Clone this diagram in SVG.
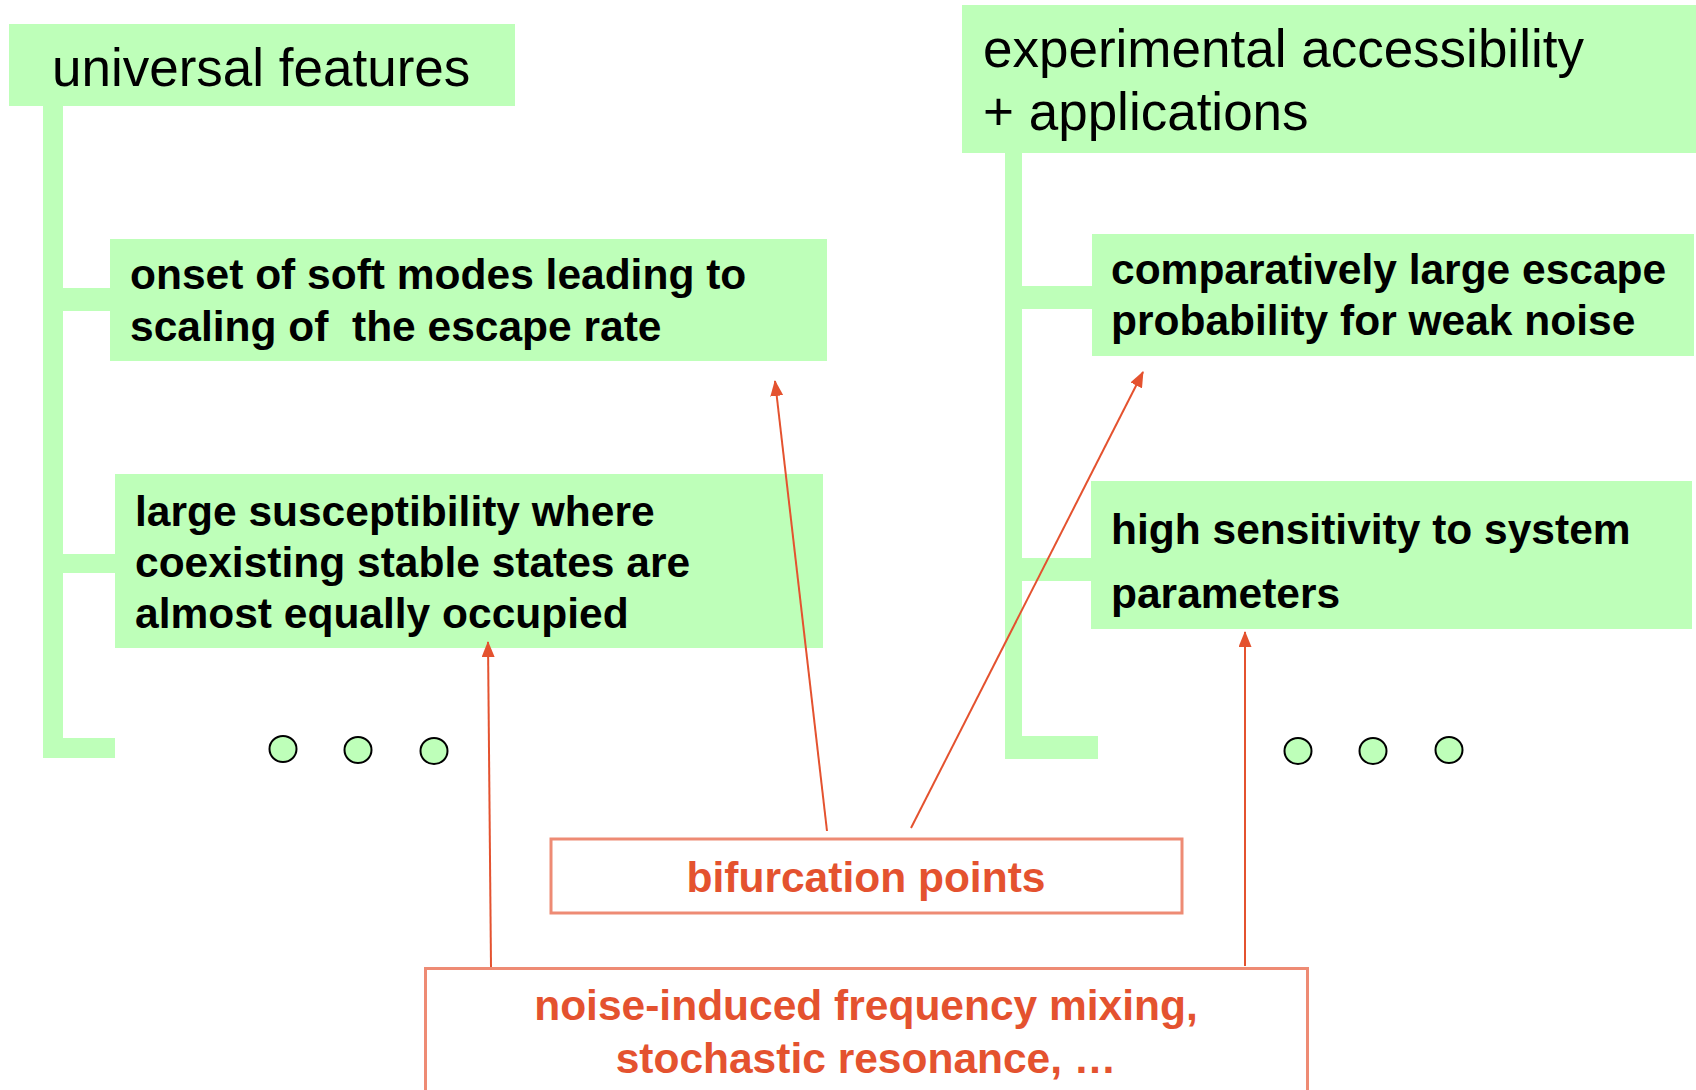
<svg xmlns="http://www.w3.org/2000/svg" width="1696" height="1090" viewBox="0 0 1696 1090">
<defs>
<style>
.box{fill:#BEFFB9}
.bar{fill:#BEFFB9}
.head{font-family:"Liberation Sans",Arial,sans-serif;font-size:53px;fill:#000}
.item{font-family:"Liberation Sans",Arial,sans-serif;font-size:42.5px;font-weight:bold;fill:#000}
.rbox{fill:#fff;stroke:#EE8B74;stroke-width:3}
.rtext{font-family:"Liberation Sans",Arial,sans-serif;font-size:42.5px;font-weight:bold;fill:#E4522F;text-anchor:middle}
.arrow{stroke:#E4522F;stroke-width:2;fill:none;marker-end:url(#ah)}
.dot{fill:#BEFFB9;stroke:#000;stroke-width:2}
</style>
<marker id="ah" viewBox="0 0 16 13" refX="15" refY="6.5" markerWidth="16" markerHeight="13" markerUnits="userSpaceOnUse" orient="auto">
<path d="M0,0 L16,6.5 L0,13 z" fill="#E4522F"/>
</marker>
</defs>
<rect width="1696" height="1090" fill="#fff"/>

<g id="universal-features">
<rect class="box" x="9" y="24" width="506" height="82"/>
<text class="head" x="52" y="86">universal features</text>
</g>

<g id="experimental-accessibility">
<rect class="box" x="962" y="5" width="734" height="148"/>
<text class="head" x="983" y="67">experimental accessibility</text>
<text class="head" x="983" y="130">+ applications</text>
</g>

<g id="onset-soft-modes">
<rect class="box" x="110" y="239" width="717" height="122"/>
<text class="item" x="130" y="289">onset of soft modes leading to</text>
<text class="item" x="130" y="341" style="white-space:pre">scaling of  the escape rate</text>
</g>

<g id="large-susceptibility">
<rect class="box" x="115" y="474" width="708" height="174"/>
<text class="item" x="135" y="526">large susceptibility where</text>
<text class="item" x="135" y="577">coexisting stable states are</text>
<text class="item" x="135" y="628">almost equally occupied</text>
</g>

<g id="comparatively-large">
<rect class="box" x="1092" y="234" width="602" height="122"/>
<text class="item" x="1111" y="284">comparatively large escape</text>
<text class="item" x="1111" y="335">probability for weak noise</text>
</g>

<g id="high-sensitivity">
<rect class="box" x="1091" y="481" width="601" height="148"/>
<text class="item" x="1111" y="544">high sensitivity to system</text>
<text class="item" x="1111" y="608">parameters</text>
</g>

<g id="dots-left">
<ellipse class="dot" cx="283" cy="749" rx="13.5" ry="13"/>
<ellipse class="dot" cx="358" cy="750" rx="13.5" ry="13"/>
<ellipse class="dot" cx="434" cy="751" rx="13.5" ry="13"/>
</g>

<g id="dots-right">
<ellipse class="dot" cx="1298" cy="751" rx="13.5" ry="13"/>
<ellipse class="dot" cx="1373" cy="751" rx="13.5" ry="13"/>
<ellipse class="dot" cx="1449" cy="750" rx="13.5" ry="13"/>
</g>

<g id="bifurcation-points">
<rect class="rbox" x="551" y="839" width="631" height="74"/>
<text class="rtext" x="866" y="892">bifurcation points</text>
</g>

<g id="noise-induced">
<rect class="rbox" x="425.5" y="968.5" width="882" height="140"/>
<text class="rtext" x="866" y="1020">noise-induced frequency mixing,</text>
<text class="rtext" x="866" y="1073">stochastic resonance, …</text>
</g>

<g id="connectors">
<rect class="bar" x="43" y="100" width="20" height="657"/>
<rect class="bar" x="43" y="738" width="72" height="20"/>
<rect class="bar" x="60" y="288" width="50" height="23"/>
<rect class="bar" x="60" y="554" width="55" height="19"/>
<rect class="bar" x="1005" y="148" width="17" height="611"/>
<rect class="bar" x="1005" y="736" width="93" height="23"/>
<rect class="bar" x="1020" y="286" width="72" height="23"/>
<rect class="bar" x="1020" y="558" width="71" height="23"/>
<line class="arrow" x1="827" y1="831" x2="775" y2="381"/>
<line class="arrow" x1="911" y1="828" x2="1143" y2="372"/>
<line class="arrow" x1="491" y1="967" x2="488" y2="642"/>
<line class="arrow" x1="1245" y1="966" x2="1245" y2="632"/>
</g>
</svg>
